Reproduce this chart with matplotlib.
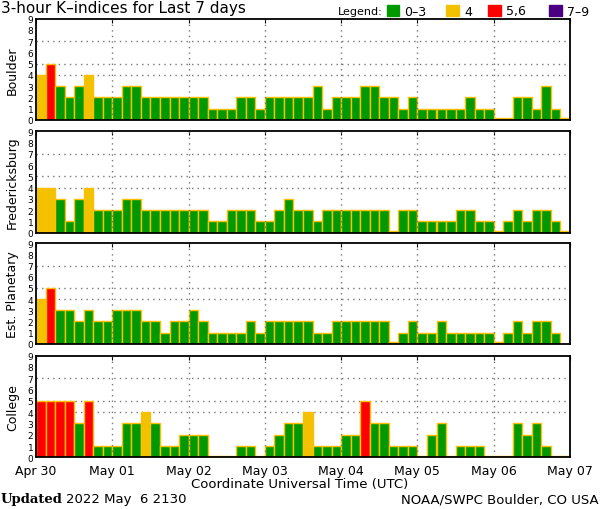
import numpy as np
import matplotlib
matplotlib.use('Agg')
import matplotlib.pyplot as plt
from matplotlib.patches import Rectangle

# 3-hour K-index values, Apr 30 00UT .. May 06 21UT (None = not yet available)
boulder = [4, 5, 3, 2, 3, 4, 2, 2,
           2, 3, 3, 2, 2, 2, 2, 2,
           2, 2, 1, 1, 1, 2, 2, 1,
           2, 2, 2, 2, 2, 3, 1, 2,
           2, 2, 3, 3, 2, 2, 1, 2,
           1, 1, 1, 1, 1, 2, 1, 1,
           0, 0, 2, 2, 1, 3, 1, 0]
fredericksburg = [4, 4, 3, 1, 3, 4, 2, 2,
                  2, 3, 3, 2, 2, 2, 2, 2,
                  2, 2, 1, 1, 2, 2, 2, 1,
                  1, 2, 3, 2, 2, 1, 2, 2,
                  2, 2, 2, 2, 2, 0, 2, 2,
                  1, 1, 1, 1, 2, 2, 1, 1,
                  0, 1, 2, 1, 2, 2, 1, 0]
planetary = [4, 5, 3, 3, 2, 3, 2, 2,
             3, 3, 3, 2, 2, 1, 2, 2,
             3, 2, 1, 1, 1, 1, 2, 1,
             2, 2, 2, 2, 2, 1, 1, 2,
             2, 2, 2, 2, 2, 0, 1, 2,
             1, 1, 2, 1, 1, 1, 1, 1,
             0, 1, 2, 1, 2, 2, 1, None]
college = [5, 5, 5, 5, 3, 5, 1, 1,
           1, 3, 3, 4, 3, 1, 1, 2,
           2, 2, 0, 0, 0, 1, 1, 0,
           1, 2, 3, 3, 4, 1, 1, 1,
           2, 2, 5, 3, 3, 1, 1, 1,
           0, 2, 3, 0, 1, 1, 1, 0,
           0, 0, 3, 2, 3, 1, 0, 0]

stations = ['Boulder', 'Fredericksburg', 'Est. Planetary', 'College']
series = [boulder, fredericksburg, planetary, college]
day_labels = ['Apr 30', 'May 01', 'May 02', 'May 03', 'May 04', 'May 05', 'May 06', 'May 07']

GREEN = '#009900'
YELLOW = '#f2c200'
RED = '#ff0000'
PURPLE = '#4b0082'
EDGE = '#ffbf00'


def kcolor(k):
    if k <= 3:
        return GREEN
    elif k == 4:
        return YELLOW
    elif k <= 6:
        return RED
    return PURPLE


W, H = 600, 510
fig = plt.figure(figsize=(6, 5.1), dpi=100)
plt.rcParams['font.family'] = 'DejaVu Sans'

left, right = 36, 570
panel_px = [(19.5, 121), (132.3, 233.7), (244.3, 344.7), (356.7, 458.3)]

for idx, (name, vals) in enumerate(zip(stations, series)):
    top, bot = panel_px[idx]
    ax = fig.add_axes([left / W, 1 - bot / H, (right - left) / W, (bot - top) / H])
    for i, k in enumerate(vals):
        if k is None:
            continue
        h = k if k > 0 else 0.15
        ax.bar(i * 3, h, width=3, align='edge', color=kcolor(k),
               edgecolor=EDGE, linewidth=1.0, zorder=2)
    ax.set_xlim(0, 168)
    ax.set_ylim(0, 9)
    for d in range(24, 168, 24):
        ax.axvline(d, color='#777777', linestyle=(0, (1, 3)), linewidth=1, zorder=3)
    for y in [4, 5, 7]:
        ax.axhline(y, color='#777777', linestyle=(0, (1, 3)), linewidth=1, zorder=1)
    ax.set_yticks(range(10))
    ax.set_yticklabels([str(v) for v in range(10)], fontsize=6.5)
    ax.tick_params(axis='y', length=0, pad=2)
    ax.set_xticks(range(0, 169, 24))
    ax.tick_params(axis='x', direction='in', length=3, top=True, bottom=False)
    if idx == 3:
        ax.set_xticklabels(day_labels, fontsize=9)
        ax.tick_params(axis='x', pad=5)
    else:
        ax.set_xticklabels([])
    for s in ax.spines.values():
        s.set_linewidth(1.3)
        s.set_zorder(5)
    ax.set_ylabel(name, fontsize=9, labelpad=6)

fig.text(1 / W, 1 - 8.5 / H, '3-hour K\u2013indices for Last 7 days', fontsize=11,
         va='center', ha='left')

# legend boxes along the top
fig.text(338 / W, 1 - 12 / H, 'Legend:', fontsize=8, va='center', ha='left')
legend = [(386.5, GREEN, '0\u20133'), (446, YELLOW, '4'), (488, RED, '5,6'), (549, PURPLE, '7\u20139')]
for x0, c, lab in legend:
    fig.patches.append(Rectangle((x0 / W, 1 - 17 / H), 13 / W, 11 / H, color=c,
                                 transform=fig.transFigure, figure=fig))
    fig.text((x0 + 18) / W, 1 - 12 / H, lab, fontsize=9, va='center', ha='left')

fig.text(300 / W, 1 - 485 / H, 'Coordinate Universal Time (UTC)', fontsize=9.5,
         va='center', ha='center')
fig.text(1 / W, 1 - 500 / H, 'Updated', fontsize=9.5, fontweight='bold',
         family='DejaVu Serif', va='center', ha='left')
fig.text(66 / W, 1 - 500 / H, '2022 May  6 2130', fontsize=9.5, va='center', ha='left')
fig.text(599 / W, 1 - 500 / H, 'NOAA/SWPC Boulder, CO USA', fontsize=9.5,
         va='center', ha='right')

fig.savefig('out.png', dpi=100)
